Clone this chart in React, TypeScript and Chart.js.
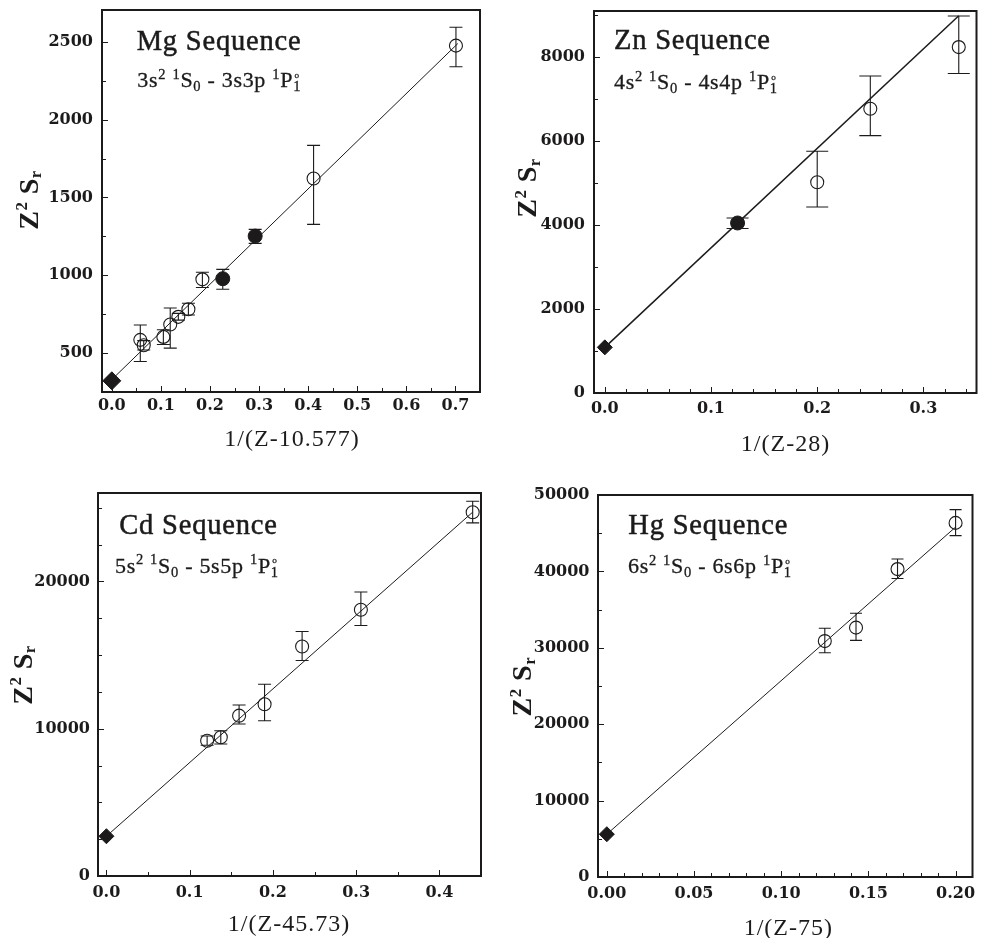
import React, { useEffect, useRef } from 'react';
import { Chart, registerables } from 'chart.js';
Chart.register(...registerables);

// ---------------- Mg sequence ----------------
const mgOpenX = [0.058, 0.065, 0.105, 0.119, 0.1355, 0.156, 0.1845, 0.411, 0.701];
const mgOpenY = [585, 550, 604, 684, 733, 782, 974, 1622, 2476];
const mgOpenHi = [681, 580, 650, 790, 755, 820, 1020, 1835, 2594];
const mgOpenLo = [446, 520, 555, 532, 712, 745, 922, 1327, 2340];
const mgFilledX = [0.226, 0.292];
const mgFilledY = [978, 1252];
const mgFilledHi = [1038, 1295];
const mgFilledLo = [910, 1205];
const mgDiamondX = [0];
const mgDiamondY = [322];
const mgFitX = [0, 0.705];
const mgFitY = [330, 2490];
const mgXTicks = [0, 0.1, 0.2, 0.3, 0.4, 0.5, 0.6, 0.7];
const mgXLabels = ['0.0', '0.1', '0.2', '0.3', '0.4', '0.5', '0.6', '0.7'];
const mgYTicks = [500, 1000, 1500, 2000, 2500];
const mgYLabels = ['500', '1000', '1500', '2000', '2500'];

// ---------------- Zn sequence ----------------
const znOpenX = [0.2, 0.25, 0.3333];
const znOpenY = [5020, 6770, 8240];
const znOpenHi = [5760, 7550, 8980];
const znOpenLo = [4430, 6130, 7610];
const znFilledX = [0.125];
const znFilledY = [4050];
const znFilledHi = [4170];
const znFilledLo = [3920];
const znDiamondX = [0];
const znDiamondY = [1087];
const znFitX = [0, 0.3333];
const znFitY = [1087, 8985];
const znXTicks = [0, 0.1, 0.2, 0.3];
const znXLabels = ['0.0', '0.1', '0.2', '0.3'];
const znYTicks = [0, 2000, 4000, 6000, 8000];
const znYLabels = ['0', '2000', '4000', '6000', '8000'];

// ---------------- Cd sequence ----------------
const cdOpenX = [0.121, 0.1374, 0.1594, 0.19, 0.2351, 0.3057, 0.44];
const cdOpenY = [9184, 9415, 10884, 11660, 15578, 18075, 24694];
const cdOpenHi = [9500, 9864, 11612, 13020, 16600, 19279, 25442];
const cdOpenLo = [8880, 8959, 10320, 10544, 14626, 17007, 23970];
const cdDiamondX = [0];
const cdDiamondY = [2700];
const cdFitX = [0, 0.44];
const cdFitY = [2700, 24700];
const cdXTicks = [0, 0.1, 0.2, 0.3, 0.4];
const cdXLabels = ['0.0', '0.1', '0.2', '0.3', '0.4'];
const cdYTicks = [0, 10000, 20000];
const cdYLabels = ['0', '10000', '20000'];

// ---------------- Hg sequence ----------------
const hgOpenX = [0.125, 0.1429, 0.1667, 0.2];
const hgOpenY = [30880, 32640, 40300, 46350];
const hgOpenHi = [32550, 34520, 41620, 48090];
const hgOpenLo = [29350, 30970, 39080, 44680];
const hgDiamondX = [0];
const hgDiamondY = [5600];
const hgFitX = [0, 0.2];
const hgFitY = [5600, 45800];
const hgXTicks = [0, 0.05, 0.1, 0.15, 0.2];
const hgXLabels = ['0.00', '0.05', '0.10', '0.15', '0.20'];
const hgYTicks = [0, 10000, 20000, 30000, 40000, 50000];
const hgYLabels = ['0', '10000', '20000', '30000', '40000', '50000'];

// ---------------- text ----------------
type Seg = { t: string; k?: 'sup' | 'sub' | 'stack'; t2?: string };
const yTitleSegs: Seg[] = [{ t: 'Z' }, { t: '2', k: 'sup' }, { t: ' S' }, { t: 'r', k: 'sub' }];
const termSegs = (n: string): Seg[] => [
  { t: n + 's' }, { t: '2', k: 'sup' }, { t: ' ' }, { t: '1', k: 'sup' }, { t: 'S' }, { t: '0', k: 'sub' },
  { t: ' - ' + n + 's' + n + 'p ' }, { t: '1', k: 'sup' }, { t: 'P' }, { t: 'o', k: 'stack', t2: '1' },
];

interface Series { x: number[]; y: number[]; hi?: number[]; lo?: number[] }
interface Panel {
  left: number; top: number; w: number; h: number;
  yW: number; xH: number; padTop: number; padRight: number;
  xMin: number; xMax: number; yMin: number; yMax: number;
  xTicks: number[]; xLabels: string[]; yTicks: number[]; yLabels: string[];
  xMinor: number; yMinor: number;
  open: Series; filled?: Series; diamond: Series; fit: Series;
  openR: number; filledR: number; diamondR: number; capHalf: number; fitW: number;
  title: string; titlePos: [number, number];
  sub: Seg[]; subPos: [number, number];
  yTitlePos: [number, number];
  xTitle: string; xTitlePos: [number, number];
  padX: number; padY: number;
}

const panels: Panel[] = [
  {
    left: 0, top: 0, w: 490, h: 470, yW: 102, xH: 78, padTop: 8, padRight: 6,
    xMin: -0.02, xMax: 0.75, yMin: 250, yMax: 2705,
    xTicks: mgXTicks, xLabels: mgXLabels, yTicks: mgYTicks, yLabels: mgYLabels, xMinor: 0.05, yMinor: 250,
    open: { x: mgOpenX, y: mgOpenY, hi: mgOpenHi, lo: mgOpenLo },
    filled: { x: mgFilledX, y: mgFilledY, hi: mgFilledHi, lo: mgFilledLo },
    diamond: { x: mgDiamondX, y: mgDiamondY }, fit: { x: mgFitX, y: mgFitY },
    openR: 6.5, filledR: 7, diamondR: 9, capHalf: 6.5, fitW: 1,
    title: 'Mg Sequence', titlePos: [136.7, 50], sub: termSegs('3'), subPos: [137.3, 87.3],
    yTitlePos: [28.3, 200], xTitle: '1/(Z-10.577)', xTitlePos: [292, 438], padX: 4, padY: 9,
  },
  {
    left: 490, top: 0, w: 495, h: 470, yW: 104, xH: 77, padTop: 11, padRight: 3,
    xMin: -0.0102, xMax: 0.35, yMin: 0, yMax: 9100,
    xTicks: znXTicks, xLabels: znXLabels, yTicks: znYTicks, yLabels: znYLabels, xMinor: 0.02, yMinor: 1000,
    open: { x: znOpenX, y: znOpenY, hi: znOpenHi, lo: znOpenLo },
    filled: { x: znFilledX, y: znFilledY, hi: znFilledHi, lo: znFilledLo },
    diamond: { x: znDiamondX, y: znDiamondY }, fit: { x: znFitX, y: znFitY },
    openR: 6.5, filledR: 7, diamondR: 7.5, capHalf: 11, fitW: 1.5,
    title: 'Zn Sequence', titlePos: [124, 49], sub: termSegs('4'), subPos: [124, 89.3],
    yTitlePos: [36.7, 188], xTitle: '1/(Z-28)', xTitlePos: [295.5, 443], padX: 6, padY: 9,
  },
  {
    left: 0, top: 470, w: 490, h: 468, yW: 98, xH: 62, padTop: 23, padRight: 9,
    xMin: -0.0101, xMax: 0.45, yMin: 0, yMax: 26000,
    xTicks: cdXTicks, xLabels: cdXLabels, yTicks: cdYTicks, yLabels: cdYLabels, xMinor: 0.05, yMinor: 2500,
    open: { x: cdOpenX, y: cdOpenY, hi: cdOpenHi, lo: cdOpenLo },
    diamond: { x: cdDiamondX, y: cdDiamondY }, fit: { x: cdFitX, y: cdFitY },
    openR: 6.5, filledR: 7, diamondR: 7.5, capHalf: 6.5, fitW: 1,
    title: 'Cd Sequence', titlePos: [119.3, 64.3], sub: termSegs('5'), subPos: [115, 102.7],
    yTitlePos: [22.3, 205], xTitle: '1/(Z-45.73)', xTitlePos: [289, 453], padX: 7, padY: 8,
  },
  {
    left: 490, top: 470, w: 491, h: 468, yW: 108, xH: 61, padTop: 25, padRight: 1,
    xMin: -0.00506, xMax: 0.2097, yMin: 0, yMax: 50000,
    xTicks: hgXTicks, xLabels: hgXLabels, yTicks: hgYTicks, yLabels: hgYLabels, xMinor: 0.01, yMinor: 5000,
    open: { x: hgOpenX, y: hgOpenY, hi: hgOpenHi, lo: hgOpenLo },
    diamond: { x: hgDiamondX, y: hgDiamondY }, fit: { x: hgFitX, y: hgFitY },
    openR: 6.5, filledR: 7, diamondR: 7.5, capHalf: 6, fitW: 1,
    title: 'Hg Sequence', titlePos: [138.3, 64.3], sub: termSegs('6'), subPos: [138, 103.3],
    yTitlePos: [31.7, 216.7], xTitle: '1/(Z-75)', xTitlePos: [298.3, 456.7], padX: 7, padY: 8.5,
  },
];

const INK = '#1c1a1a';
const SERIF = '"Liberation Serif", "Times New Roman", serif';

interface TextStyle { size: number; weight: string; family: string; ls: number; small: number; rise: number; drop: number; stroke?: number }

function drawRich(ctx: CanvasRenderingContext2D, segs: Seg[], x: number, y: number, st: TextStyle, align: 'left' | 'center') {
  const f = (s: number) => `${st.weight} ${s}px ${st.family}`;
  const small = st.size * st.small;
  (ctx as any).letterSpacing = st.ls + 'px';
  ctx.textAlign = 'left';
  ctx.textBaseline = 'alphabetic';
  ctx.strokeStyle = INK;
  ctx.lineWidth = st.stroke || 0;
  const put = (t: string, px: number, py: number) => {
    ctx.fillText(t, px, py);
    if (st.stroke) ctx.strokeText(t, px, py);
  };
  const widths = segs.map((sg) => {
    if (!sg.k) { ctx.font = f(st.size); return ctx.measureText(sg.t).width; }
    ctx.font = f(small);
    if (sg.k === 'stack') return ctx.measureText(sg.t2 || '').width;
    return ctx.measureText(sg.t).width;
  });
  const total = widths.reduce((a, b) => a + b, 0);
  let cx = align === 'center' ? x - total / 2 : x;
  segs.forEach((sg, i) => {
    if (!sg.k) { ctx.font = f(st.size); put(sg.t, cx, y); }
    else if (sg.k === 'sup') { ctx.font = f(small); put(sg.t, cx, y - st.size * st.rise); }
    else if (sg.k === 'sub') { ctx.font = f(small); put(sg.t, cx, y + st.size * st.drop); }
    else {
      ctx.font = f(small);
      put(sg.t2 || '', cx, y + st.size * st.drop);
      ctx.font = f(st.size * 0.42);
      const wo = ctx.measureText(sg.t).width;
      put(sg.t, cx + (widths[i] - wo) / 2, y - st.size * 0.42);
    }
    cx += widths[i];
  });
  (ctx as any).letterSpacing = '0px';
}

function makePlugin(p: Panel) {
  return {
    id: 'decor',
    beforeDatasetsDraw(chart: any) {
      const ctx: CanvasRenderingContext2D = chart.ctx;
      const xs = chart.scales.x, ys = chart.scales.y;
      ctx.save();
      ctx.strokeStyle = INK;
      ctx.lineWidth = 1.1;
      [p.open, p.filled].forEach((s) => {
        if (!s || !s.hi || !s.lo) return;
        s.x.forEach((xv, i) => {
          const px = xs.getPixelForValue(xv);
          const y1 = ys.getPixelForValue(s.hi![i]);
          const y2 = ys.getPixelForValue(s.lo![i]);
          ctx.beginPath();
          ctx.moveTo(px, y1); ctx.lineTo(px, y2);
          ctx.moveTo(px - p.capHalf, y1); ctx.lineTo(px + p.capHalf, y1);
          ctx.moveTo(px - p.capHalf, y2); ctx.lineTo(px + p.capHalf, y2);
          ctx.stroke();
        });
      });
      ctx.restore();
    },
    afterDatasetsDraw(chart: any) {
      const ctx: CanvasRenderingContext2D = chart.ctx;
      const a = chart.chartArea;
      const xs = chart.scales.x, ys = chart.scales.y;
      ctx.save();
      ctx.strokeStyle = INK;
      ctx.lineWidth = 1;
      const drawX = (v: number, len: number) => {
        const px = Math.round(xs.getPixelForValue(v)) + 0.5;
        ctx.beginPath(); ctx.moveTo(px, a.bottom); ctx.lineTo(px, a.bottom - len); ctx.stroke();
      };
      const drawY = (v: number, len: number) => {
        const py = Math.round(ys.getPixelForValue(v)) + 0.5;
        ctx.beginPath(); ctx.moveTo(a.left, py); ctx.lineTo(a.left + len, py); ctx.stroke();
      };
      const near = (v: number, arr: number[], step: number) => arr.some((t) => Math.abs(t - v) < step * 0.01);
      for (let i = Math.ceil(p.xMin / p.xMinor); i * p.xMinor <= p.xMax; i++) {
        const v = i * p.xMinor;
        if (!near(v, p.xTicks, p.xMinor)) drawX(v, 4);
      }
      for (let i = Math.ceil(p.yMin / p.yMinor); i * p.yMinor <= p.yMax; i++) {
        const v = i * p.yMinor;
        if (!near(v, p.yTicks, p.yMinor)) drawY(v, 4);
      }
      p.xTicks.forEach((v) => drawX(v, 6));
      p.yTicks.forEach((v) => drawY(v, 6));
      ctx.lineWidth = 2;
      ctx.strokeRect(a.left, a.top, a.right - a.left, a.bottom - a.top);
      ctx.restore();
    },
    afterDraw(chart: any) {
      const ctx: CanvasRenderingContext2D = chart.ctx;
      ctx.save();
      ctx.fillStyle = INK;
      drawRich(ctx, [{ t: p.title }], p.titlePos[0], p.titlePos[1],
        { size: 28.5, weight: 'normal', family: SERIF, ls: 0.8, small: 0.6, rise: 0.4, drop: 0.15, stroke: 0.5 }, 'left');
      drawRich(ctx, p.sub, p.subPos[0], p.subPos[1],
        { size: 22, weight: 'normal', family: SERIF, ls: 0.7, small: 0.66, rise: 0.38, drop: 0.18, stroke: 0.3 }, 'left');
      drawRich(ctx, [{ t: p.xTitle }], p.xTitlePos[0], p.xTitlePos[1] + 8,
        { size: 24, weight: 'normal', family: SERIF, ls: 1, small: 0.6, rise: 0.4, drop: 0.15 }, 'center');
      ctx.save();
      ctx.translate(p.yTitlePos[0], p.yTitlePos[1]);
      ctx.rotate(-Math.PI / 2);
      drawRich(ctx, yTitleSegs, 0, 9.5,
        { size: 28, weight: 'bold', family: SERIF, ls: 0.5, small: 0.6, rise: 0.38, drop: 0.12 }, 'center');
      ctx.restore();
      ctx.restore();
    },
  };
}

function toPts(x: number[], y: number[]) {
  return x.map((v, i) => ({ x: v, y: y[i] }));
}

function PanelChart({ p }: { p: Panel }) {
  const ref = useRef<HTMLCanvasElement | null>(null);
  useEffect(() => {
    if (!ref.current) return;
    const tickFont = { family: '"DejaVu Serif", serif', size: 16, weight: 'bold' as const };
    const datasets: any[] = [
      {
        data: toPts(p.diamond.x, p.diamond.y), pointStyle: 'rectRot', pointRadius: p.diamondR,
        backgroundColor: INK, borderColor: INK, borderWidth: 1, showLine: false,
      },
    ];
    if (p.filled) {
      datasets.push({
        data: toPts(p.filled.x, p.filled.y), pointStyle: 'circle', pointRadius: p.filledR,
        backgroundColor: INK, borderColor: INK, borderWidth: 1, showLine: false,
      });
    }
    datasets.push({
      data: toPts(p.open.x, p.open.y), pointStyle: 'circle', pointRadius: p.openR,
      backgroundColor: 'rgba(0,0,0,0)', borderColor: INK, borderWidth: 1.1, showLine: false,
    });
    datasets.push({
      data: toPts(p.fit.x, p.fit.y), showLine: true, pointRadius: 0, borderColor: INK,
      borderWidth: p.fitW, fill: false, tension: 0,
    });
    const chart = new Chart(ref.current, {
      type: 'scatter',
      data: { datasets },
      options: {
        animation: false,
        responsive: false,
        devicePixelRatio: 1,
        events: [],
        layout: { padding: { left: 0, top: p.padTop, right: p.padRight, bottom: 0 } },
        plugins: { legend: { display: false }, tooltip: { enabled: false }, title: { display: false } },
        scales: {
          x: {
            type: 'linear', min: p.xMin, max: p.xMax,
            afterBuildTicks: (s: any) => { s.ticks = p.xTicks.map((v) => ({ value: v })); },
            afterFit: (s: any) => { s.height = p.xH; s.paddingLeft = 0; s.paddingRight = 0; },
            ticks: {
              callback: (_v: any, i: number) => p.xLabels[i], font: tickFont, color: INK,
              padding: p.padX, maxRotation: 0, autoSkip: false,
            },
            grid: { display: false, drawTicks: false, tickLength: 0 },
            border: { display: false },
          },
          y: {
            type: 'linear', min: p.yMin, max: p.yMax,
            afterBuildTicks: (s: any) => { s.ticks = p.yTicks.map((v) => ({ value: v })); },
            afterFit: (s: any) => { s.width = p.yW; s.paddingTop = 0; s.paddingBottom = 0; },
            ticks: {
              callback: (_v: any, i: number) => p.yLabels[i], font: tickFont, color: INK,
              padding: p.padY, autoSkip: false,
            },
            grid: { display: false, drawTicks: false, tickLength: 0 },
            border: { display: false },
          },
        },
      } as any,
      plugins: [makePlugin(p)],
    });
    return () => chart.destroy();
  }, [p]);
  return (
    <canvas
      ref={ref}
      width={p.w}
      height={p.h}
      style={{ position: 'absolute', left: p.left, top: p.top, width: p.w, height: p.h }}
    />
  );
}

export default function App() {
  return (
    <div style={{ position: 'absolute', left: 0, top: 0, width: 981, height: 938, overflow: 'hidden', background: '#fff' }}>
      {panels.map((p, i) => (
        <PanelChart key={i} p={p} />
      ))}
    </div>
  );
}
